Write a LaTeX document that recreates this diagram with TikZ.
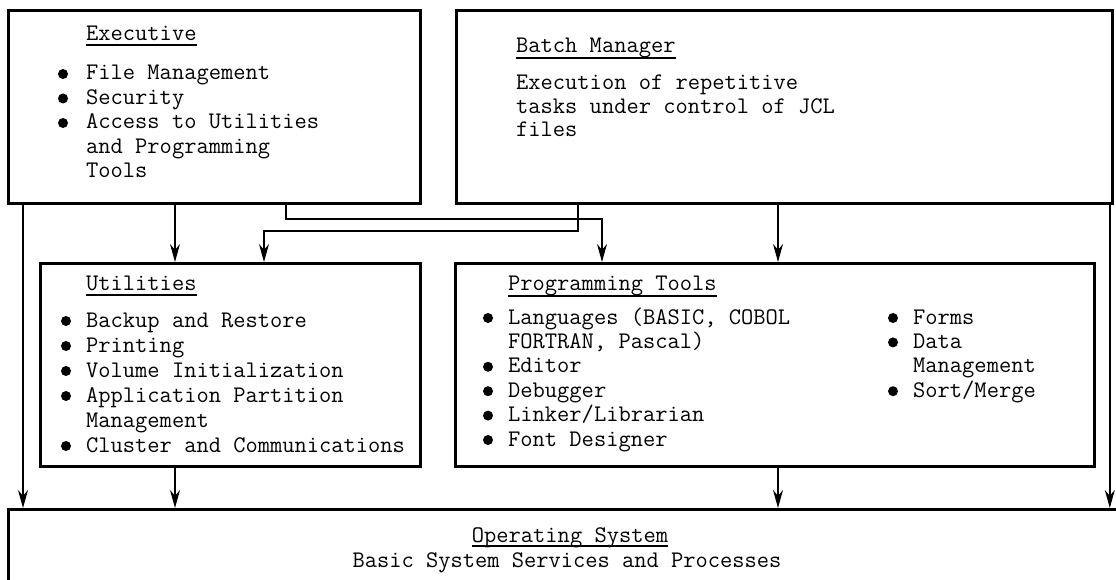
\documentclass[tikz,border=0pt]{standalone}
\usepackage{fontspec}
\usepackage{tikz}
\usetikzlibrary{arrows.meta,positioning,calc}

\newcommand{\tw}{\fontsize{23.8}{24.5}\selectfont\ttfamily\addfontfeatures{FakeBold=1.2}}
\tikzset{
  box/.style={draw,line width=2.8pt,anchor=north west,inner sep=0pt},
  conn/.style={line width=1.5pt,-{Stealth[length=18pt,width=10pt]}},
  wire/.style={line width=1.3pt},
  txt/.style={anchor=base west,inner sep=0pt,font=\tw},
}

\begin{document}
\begin{tikzpicture}[x=1pt,y=-1pt]
  \useasboundingbox (0,0) rectangle (1116,580);
  \fill[white] (0,0) rectangle (1116,580);
  \clip (0,0) rectangle (1116,580);

  % Boxes
  \node[box,minimum width=412pt,minimum height=193pt] (exec) at (7,9) {};
  \node[box,minimum width=656pt,minimum height=193pt] (batch) at (455,9) {};
  \node[box,minimum width=380pt,minimum height=203pt] (util) at (39,262) {};
  \node[box,minimum width=639pt,minimum height=203pt] (prog) at (454,262) {};
  \node[box,minimum width=1140pt,minimum height=120pt] (os) at (7,508) {};

  % Executive
  \node[txt] (exec-t) at (86,41) {Executive};
  \draw[wire] ([yshift=-4pt]exec-t.base west) -- ([yshift=-4pt]exec-t.base east);
  \foreach \t [count=\i] in {File Management,Security,Access to Utilities,
                             and Programming,Tools}
    \node[txt] (exec-\i) at (86,{80+(\i-1)*24.5}) {\t};
  \foreach \i in {1,2,3}
    \fill ([shift={(-23pt,6pt)}]exec-\i.base west) circle (5pt);

  % Batch Manager
  \node[txt] (batch-t) at (516,53) {Batch Manager};
  \draw[wire] ([yshift=-5pt]batch-t.base west) -- ([yshift=-5pt]batch-t.base east);
  \foreach \t [count=\i] in {Execution of repetitive,
                             tasks under control of JCL,files}
    \node[txt] (batch-\i) at (516,{90+(\i-1)*23.5}) {\t};

  % Utilities
  \node[txt] (util-t) at (86,290) {Utilities};
  \draw[wire] ([yshift=-5pt]util-t.base west) -- ([yshift=-5pt]util-t.base east);
  \foreach \t [count=\i] in {Backup and Restore,Printing,Volume Initialization,
                             Application Partition,Management,
                             Cluster and Communications}
    \node[txt] (util-\i) at (86,{327+(\i-1)*25}) {\t};
  \foreach \i in {1,2,3,4,6}
    \fill ([shift={(-20pt,6pt)}]util-\i.base west) circle (5pt);

  % Programming Tools
  \node[txt] (prog-t) at (508,290) {Programming Tools};
  \draw[wire] ([yshift=-6pt]prog-t.base west) -- ([yshift=-6pt]prog-t.base east);
  \foreach \t [count=\i] in {{Languages (BASIC, COBOL},{FORTRAN, Pascal)},
                             Editor,Debugger,Linker/Librarian,Font Designer}
    \node[txt] (prog-\i) at (508,{324+(\i-1)*24.4}) {\t};
  \foreach \i in {1,3,4,5,6}
    \fill ([shift={(-20pt,6pt)}]prog-\i.base west) circle (5pt);
  \foreach \t [count=\i] in {Forms,Data,Management,Sort/Merge}
    \node[txt] (prog-r\i) at (913,{324+(\i-1)*24.4}) {\t};
  \foreach \i in {1,2,4}
    \fill ([shift={(-20pt,6pt)}]prog-r\i.base west) circle (5pt);

  % Operating System
  \node[txt,anchor=base] (os-t) at (570,542) {Operating System};
  \draw[wire] ([yshift=-4pt]os-t.base west) -- ([yshift=-4pt]os-t.base east);
  \node[txt,anchor=base] (os-s) at (567,567) {Basic System Services and Processes};

  % Connectors
  \draw[conn] ([xshift=16pt]exec.south west) -- ([xshift=16pt]exec.south west |- os.north);
  \draw[conn] ([xshift=168pt]exec.south west) -- ([xshift=168pt]exec.south west |- util.north);
  \draw[conn] ([xshift=279pt]exec.south west) -- ++(0,-14pt) -| ([xshift=148pt]prog.north west);
  \draw[conn] ([xshift=123pt]batch.south west) -- ++(0,-26pt) -| ([xshift=225pt]util.north west);
  \draw[conn] ([xshift=323pt]batch.south west) -- ([xshift=323pt]batch.south west |- prog.north);
  \draw[conn] ([xshift=-4pt]batch.south east) -- ([xshift=-4pt]batch.south east |- os.north);
  \draw[conn] ([xshift=136pt]util.south west) -- ([xshift=136pt]util.south west |- os.north);
  \draw[conn] ([xshift=324pt]prog.south west) -- ([xshift=324pt]prog.south west |- os.north);
\end{tikzpicture}
\end{document}
